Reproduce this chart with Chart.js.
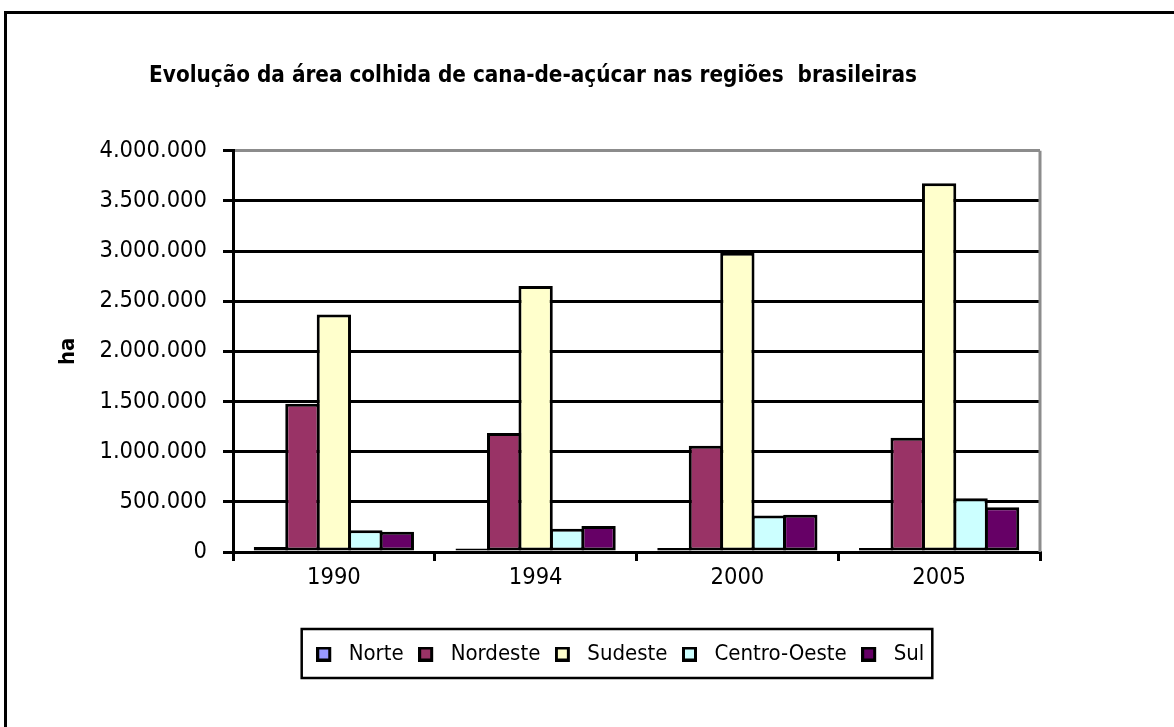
<!DOCTYPE html>
<html>
<head>
<meta charset="utf-8">
<script src="https://cdn.jsdelivr.net/npm/chart.js@4.4.0/dist/chart.umd.min.js"></script>
<style>
  body { margin: 0; background: #fff; }
  #wrap { width: 1174px; height: 727px; position: relative; }
</style>
</head>
<body>
<div id="wrap"><canvas id="myChart"></canvas></div>
<script>
const years = ['1990', '1994', '2000', '2005'];
const norte = [50000, 34000, 40000, 40000];
const nordeste = [1477000, 1186000, 1060000, 1139000];
const sudeste = [2368000, 2652000, 2984000, 3675000];
const centroOeste = [218000, 232000, 365000, 536000];
const sul = [203000, 258000, 371000, 447000];

const seriesNames = ['Norte', 'Nordeste', 'Sudeste', 'Centro-Oeste', 'Sul'];
const seriesColors = ['#9999FF', '#993366', '#FFFFCC', '#CCFFFF', '#660066'];
const seriesData = [norte, nordeste, sudeste, centroOeste, sul];

function fmt(v) {
    return v.toString().replace(/\B(?=(\d{3})+(?!\d))/g, '.');
}

// little legend squares, drawn at the left of a wider transparent image
function legendSquare(color) {
    const cv = document.createElement('canvas');
    cv.width = 22;
    cv.height = 15;
    const g = cv.getContext('2d');
    g.fillStyle = '#000';
    g.fillRect(0, 0, 15, 15);
    g.fillStyle = color;
    g.fillRect(3, 3, 9, 9);
    return cv;
}
const legendImgs = seriesColors.map(legendSquare);

Chart.defaults.font.family = "'DejaVu Sans Condensed', 'DejaVu Sans', sans-serif";
Chart.defaults.color = '#000';

// frame, plot border and legend box
const extras = {
    id: 'extras',
    afterLayout(chart) {
        // legend sits right of the centre in the original
        const lg = chart.legend;
        const d = 620.5 - (lg.left + lg.right) / 2;
        lg.left += d;
        lg.right += d;
    },
    afterDraw(chart) {
        const c = chart.ctx;
        const a = chart.chartArea;
        c.save();
        c.strokeStyle = '#000';
        c.lineWidth = 3;
        c.strokeRect(5.5, 12.5, 2000, 2000);

        c.strokeStyle = '#8c8c8c';
        c.beginPath();
        c.moveTo(a.right, a.top);
        c.lineTo(a.right, a.bottom);
        c.stroke();

        const hb = chart.legend.legendHitBoxes;
        if (hb && hb.length) {
            const first = hb[0], last = hb[hb.length - 1];
            const cy = first.top + first.height / 2;
            c.strokeStyle = '#000';
            c.lineWidth = 2.5;
            c.strokeRect(first.left - 15, cy - 25, last.left + last.width - first.left + 23, 49);
        }
        c.restore();
    }
};

const ctx = document.getElementById('myChart').getContext('2d');
const myChart = new Chart(ctx, {
    type: 'bar',
    data: {
        labels: years,
        datasets: seriesNames.map((name, i) => ({
            label: name,
            data: seriesData[i],
            backgroundColor: seriesColors[i],
            borderColor: '#000',
            borderWidth: 3,
            borderSkipped: false,
            categoryPercentage: 0.78,
            barPercentage: 1.09
        }))
    },
    options: {
        responsive: true,
        maintainAspectRatio: false,
        animation: false,
        layout: { padding: { left: 26, right: 134, top: 0, bottom: 52 } },
        plugins: {
            title: {
                display: true,
                text: 'Evolução da área colhida de cana-de-açúcar nas regiões  brasileiras',
                font: { size: 22.3, weight: 'bold' },
                padding: { top: 63, bottom: 61 }
            },
            legend: {
                position: 'bottom',
                labels: {
                    usePointStyle: true,
                    pointStyleWidth: 21,
                    boxHeight: 15,
                    padding: 15,
                    font: { size: 22 },
                    generateLabels: (chart) =>
                        Chart.defaults.plugins.legend.labels.generateLabels(chart)
                            .map((it, i) => ({ ...it, pointStyle: legendImgs[i] }))
                }
            },
            tooltip: { enabled: false }
        },
        scales: {
            x: {
                grid: {
                    offset: true,
                    drawOnChartArea: false,
                    tickLength: 9,
                    tickColor: '#000',
                    lineWidth: 3
                },
                border: { color: '#000', width: 3 },
                ticks: { padding: 3, font: { size: 23.5 } },
                afterFit(scale) { scale.height = 76; }
            },
            y: {
                min: 0,
                max: 4000000,
                grid: {
                    color: (c) => (c.tick && c.tick.value === 4000000 ? '#8c8c8c' : '#000'),
                    lineWidth: 3,
                    tickLength: 10,
                    tickColor: '#000'
                },
                border: { color: '#000', width: 3 },
                ticks: {
                    stepSize: 500000,
                    padding: 16,
                    font: { size: 23.5 },
                    callback: (v) => fmt(v)
                },
                title: {
                    display: true,
                    text: 'ha',
                    font: { size: 22, weight: 'bold' },
                    padding: { top: 29, bottom: 0 }
                },
                afterFit(scale) { scale.width = 207; }
            }
        }
    },
    plugins: [extras]
});
</script>
</body>
</html>
